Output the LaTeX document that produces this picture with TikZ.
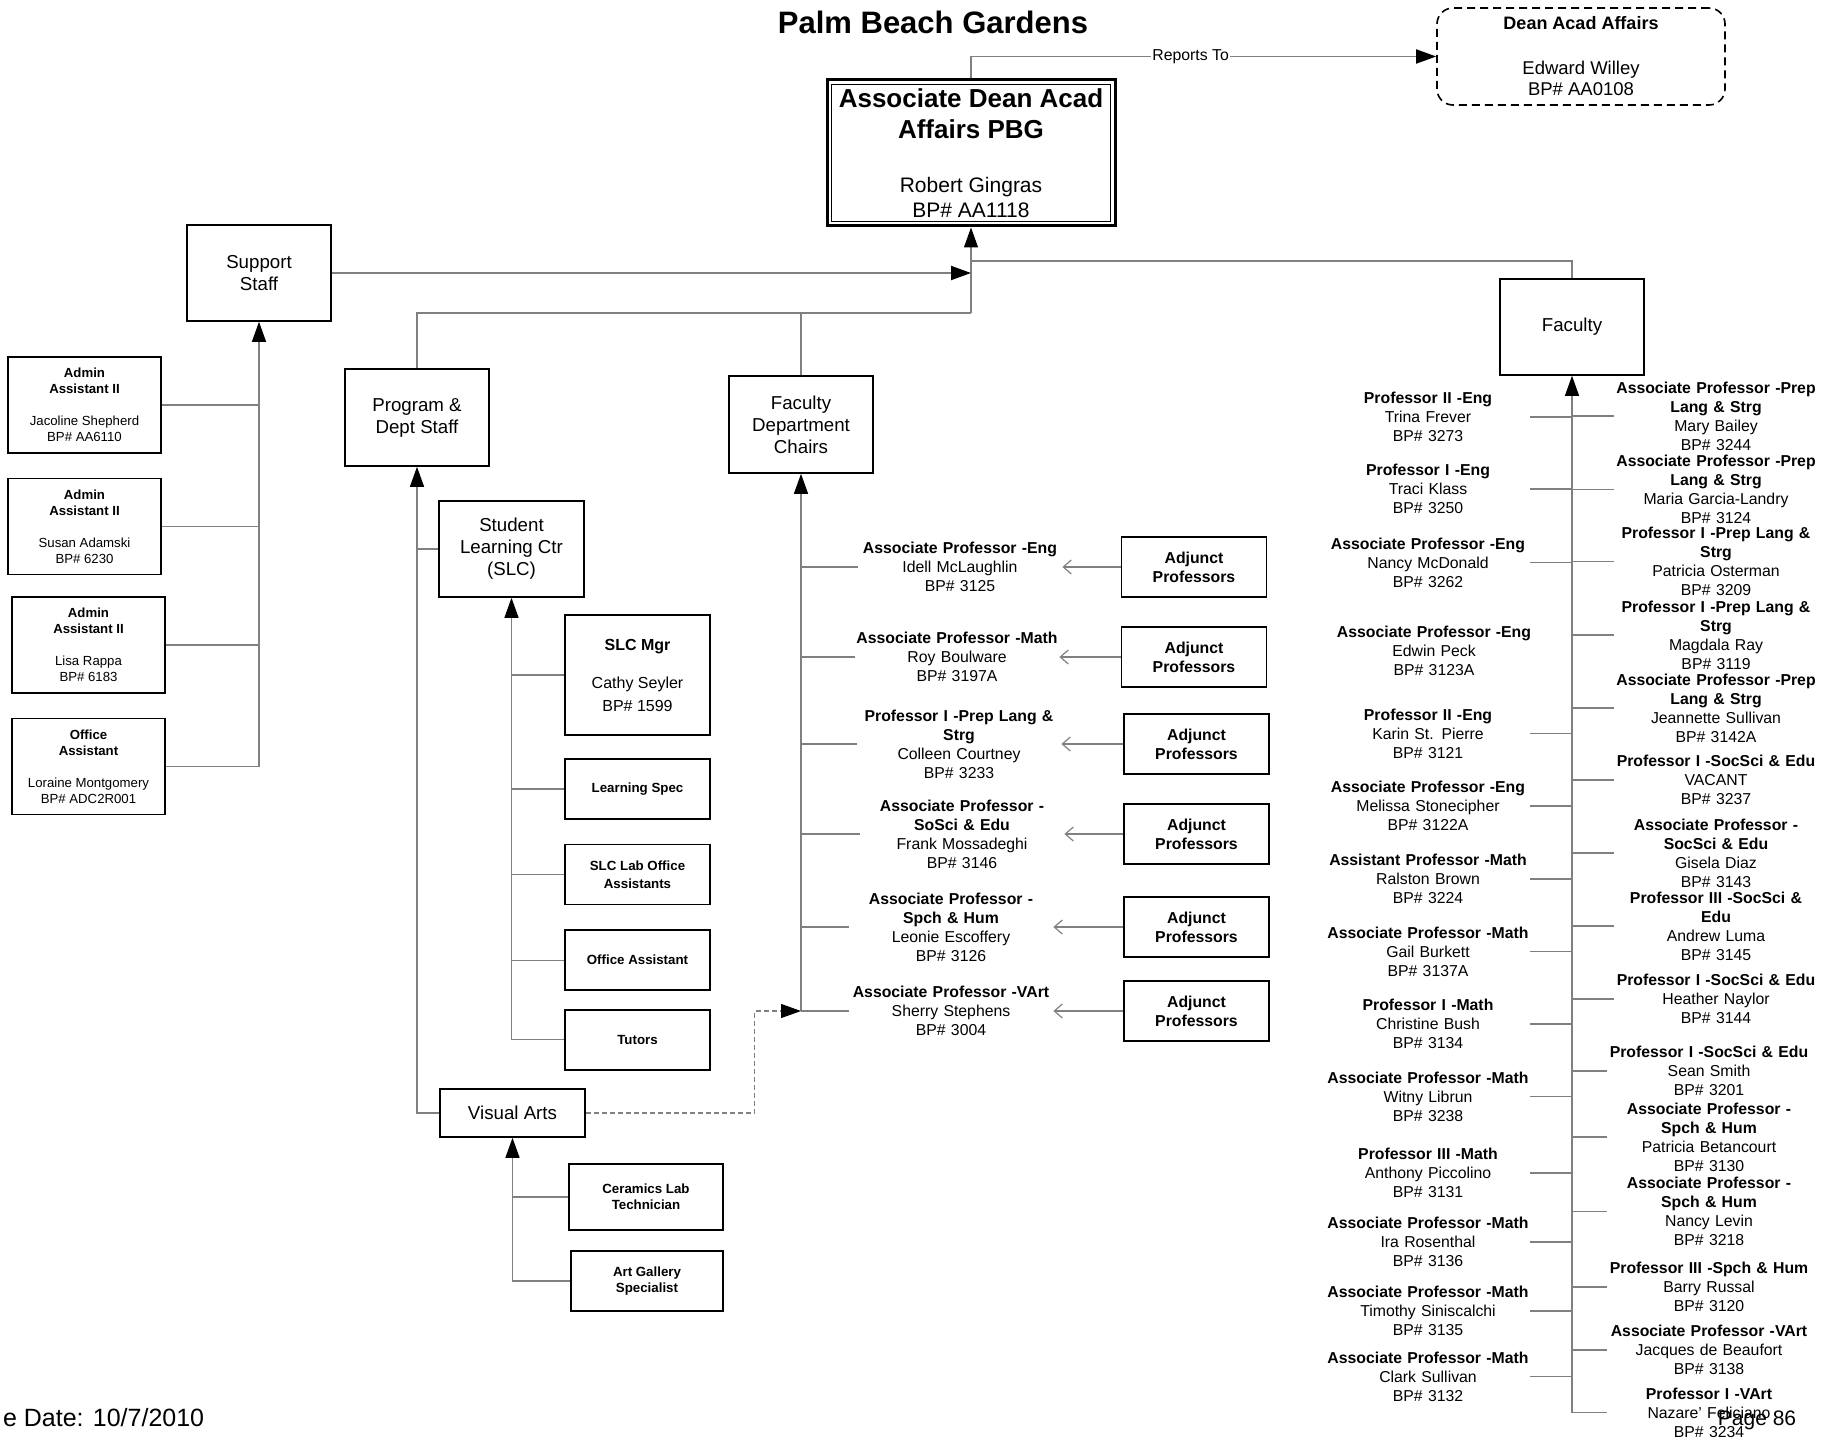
\documentclass[tikz,border=0pt]{standalone}
\usepackage{fontspec}
\setmainfont{Liberation Sans}
\usetikzlibrary{arrows.meta,positioning,calc}
\definecolor{Wire}{HTML}{808080}

\begin{document}
\begin{tikzpicture}[x=0.5pt,y=-0.5pt,
    unit/.style={draw,line width=0.8pt,minimum width=72pt,minimum height=48pt,
      inner sep=1pt,align=center,font=\fontsize{9.35}{11}\selectfont},
    staff/.style={draw,line width=0.8pt,minimum width=76.5pt,minimum height=48pt,
      inner sep=1pt,align=center,font=\fontsize{6.6}{8}\selectfont},
    post/.style={draw,line width=0.8pt,minimum width=72.5pt,minimum height=30pt,
      inner sep=1pt,align=center,font=\bfseries\fontsize{6.65}{8}\selectfont},
    adj/.style={post,font=\bfseries\fontsize{7.9}{9.5}\selectfont},
    fac/.style={text width=102pt,inner sep=0pt,align=center,font=\fontsize{7.9}{9.5}\selectfont},
    link/.style={draw=Wire,line width=0.6pt},
    arr/.style={link,-{Triangle[length=10pt,width=7pt,color=black]}},
    barb/.style={link,-{Straight Barb[length=4pt,width=7pt]}}
  ]
    \useasboundingbox (0,0) rectangle (1835,1439);

    % top of the chart
    \node[font=\bfseries\fontsize{15.5}{18}\selectfont] (title) at (933,22) {Palm Beach Gardens};
    \node[draw,line width=1.5pt,minimum width=144pt,minimum height=73pt,inner sep=1pt,
      align=center,font=\fontsize{10.5}{12.5}\selectfont] (adean) at (971,153)
      {\fontsize{13}{15}\selectfont\textbf{Associate Dean Acad}\\[3pt]
       \fontsize{13}{15}\selectfont\textbf{Affairs PBG}\\[14.5pt]
       Robert Gingras\\BP\# AA1118};
    \draw[line width=0.6pt] ($(adean.south west)+(3pt,3pt)$) rectangle ($(adean.north east)+(-3pt,-3pt)$);
    \node[draw,dash pattern=on 4pt off 2.5pt,rounded corners=8pt,line width=0.8pt,
      minimum width=144pt,minimum height=48.5pt,inner sep=1pt,align=center,
      font=\fontsize{9.25}{10.5}\selectfont] (dean) at (1581,56.5)
      {\fontsize{9}{10.5}\selectfont\textbf{Dean Acad Affairs}\\[12pt]Edward Willey\\BP\# AA0108};
    \draw[arr,line width=0.9pt] (adean.north) |- node[pos=0.736,fill=white,inner sep=0.5pt,
      font=\fontsize{7.9}{9}\selectfont] (rep) {Reports To} (dean.west);

    \node[unit] (support) at (259,273) {Support\\Staff};
    \node[unit,minimum height=48.5pt] (program) at (417,417.5) {Program \&\\Dept Staff};
    \node[unit,minimum height=48.5pt] (fdc) at (801,424.5) {Faculty\\Department\\Chairs};
    \node[unit] (faculty) at (1572,327) {Faculty};

    \coordinate (hub) at (971,313);
    \coordinate (hubtop) at (971,261);
    \draw[arr] (hub) -- (adean.south);
    \draw[link] (program.north) |- (hub);
    \draw[link] (fdc.north) -- (fdc.north |- hub);
    \draw[link] (faculty.north) |- (hubtop);
    \draw[arr,line width=1pt] (support.east) -- (support.east -| hub);

    % support staff
    \node[staff] (aa1) at (84.5,405) {\textbf{Admin}\\\textbf{Assistant II}\\[8pt]Jacoline Shepherd\\BP\# AA6110};
    \node[staff,below=12pt of aa1] (aa2) {\textbf{Admin}\\\textbf{Assistant II}\\[8pt]Susan Adamski\\BP\# 6230};
    \node[staff] (aa3) at (88.5,645) {\textbf{Admin}\\\textbf{Assistant II}\\[8pt]Lisa Rappa\\BP\# 6183};
    \node[staff,below=12pt of aa3] (oa) {\textbf{Office}\\\textbf{Assistant}\\[8pt]Loraine Montgomery\\BP\# ADC2R001};
    \draw[arr] (oa.east -| support.south) -- (support.south);
    \foreach \s in {aa1,aa2,aa3,oa}\draw[link](\s.east)--(\s.east -| support.south);

    % program and dept staff
    \node[unit,minimum width=72.5pt] (slc) at (511.5,549) {Student\\Learning Ctr\\(SLC)};
    \node[draw,line width=0.8pt,minimum width=72.5pt,minimum height=60pt,inner sep=1pt,
      align=center,font=\fontsize{8}{11.5}\selectfont] (slcmgr) at (637.5,675)
      {\textbf{SLC Mgr}\\[7.5pt]Cathy Seyler\\BP\# 1599};
    \node[post] (lspec) at (637.5,789) {Learning Spec};
    \node[post,below=12pt of lspec] (lab) {SLC Lab Office\\[1pt]Assistants};
    \node[post,below=12pt of lab] (offa) {Office Assistant};
    \node[post,below=9pt of offa] (tutors) {Tutors};
    \node[unit,minimum width=72.5pt,minimum height=24pt] (visual) at (512.5,1113) {Visual Arts};
    \node[post,minimum width=77pt,minimum height=33pt] (ceramics) at (646,1197) {Ceramics Lab\\Technician};
    \node[post,minimum width=76pt] (gallery) at (647,1281) {Art Gallery\\Specialist};

    \draw[arr] (visual.west) -| (program.south);
    \draw[link] (slc.west) -- (slc.west -| program.south);
    \draw[arr] (tutors.west) -| (slc.south);
    \foreach \s in {slcmgr,lspec,lab,offa}\draw[link](\s.west)--(\s.west -| slc.south);
    \draw[arr] (gallery.west) -| (visual.south);
    \draw[link] (ceramics.west) -- (ceramics.west -| visual.south);

    % department chairs
    \foreach \i/\x/\a/\y/\t/\p/\b in {
      1/960/1194/567/{Associate Professor -Eng}/{Idell McLaughlin}/3125,
      2/957/1194/657/{Associate Professor -Math}/{Roy Boulware}/3197A,
      3/959/1196.5/744/{Professor I -Prep Lang \&\\Strg}/{Colleen Courtney}/3233,
      4/962/1196.5/834/{Associate Professor -\\SoSci \& Edu}/{Frank Mossadeghi}/3146,
      5/951/1196.5/927/{Associate Professor -\\Spch \& Hum}/{Leonie Escoffery}/3126,
      6/951/1196.5/1011/{Associate Professor -VArt}/{Sherry Stephens}/3004}{
      \node[fac] (chair\i) at (\x,\y) {\textbf{\t}\\\p\\BP\# \b};
      \node[adj] (adj\i) at (\a,\y) {Adjunct\\Professors};
      \draw[link] (chair\i.west) -- (chair\i.west -| fdc.south);
      \draw[barb] (adj\i.west) -- (chair\i.east);
    }
    \draw[arr] (chair6.west -| fdc.south) -- (fdc.south);
    \draw[arr,dash pattern=on 2.5pt off 1.5pt] (visual.east) -- ++(169,0) |- (chair6.west -| fdc.south);

    % faculty
    \foreach \i/\y/\t/\p/\b in {
      1/417/{Professor II -Eng}/{Trina Frever}/3273,
      2/489/{Professor I -Eng}/{Traci Klass}/3250,
      3/562.5/{Associate Professor -Eng}/{Nancy McDonald}/3262,
      5/733.5/{Professor II -Eng}/{Karin St. Pierre}/3121,
      6/806/{Associate Professor -Eng}/{Melissa Stonecipher}/3122A,
      7/879/{Assistant Professor -Math}/{Ralston Brown}/3224,
      8/951.5/{Associate Professor -Math}/{Gail Burkett}/3137A,
      9/1024/{Professor I -Math}/{Christine Bush}/3134,
      10/1096.5/{Associate Professor -Math}/{Witny Librun}/3238,
      11/1173/{Professor III -Math}/{Anthony Piccolino}/3131,
      12/1242/{Associate Professor -Math}/{Ira Rosenthal}/3136,
      13/1311/{Associate Professor -Math}/{Timothy Siniscalchi}/3135,
      14/1376.5/{Associate Professor -Math}/{Clark Sullivan}/3132}{
      \node[fac] (fl\i) at (1428,\y) {\textbf{\t}\\\p\\BP\# \b};
      \draw[link] (fl\i.east) -- (fl\i.east -| faculty.south);
    }
    \node[fac] (fl4) at (1434,651) {\textbf{Associate Professor -Eng}\\Edwin Peck\\BP\# 3123A};

    \foreach \i/\x/\y/\t/\p/\b in {
      1/1716/416/{Associate Professor -Prep\\Lang \& Strg}/{Mary Bailey}/3244,
      2/1716/489.5/{Associate Professor -Prep\\Lang \& Strg}/{Maria Garcia-Landry}/3124,
      3/1716/561.5/{Professor I -Prep Lang \&\\Strg}/{Patricia Osterman}/3209,
      4/1716/635/{Professor I -Prep Lang \&\\Strg}/{Magdala Ray}/3119,
      5/1716/708/{Associate Professor -Prep\\Lang \& Strg}/{Jeannette Sullivan}/3142A,
      6/1716/780/{Professor I -SocSci \& Edu}/{VACANT}/3237,
      7/1716/853/{Associate Professor -\\SocSci \& Edu}/{Gisela Diaz}/3143,
      8/1716/926/{Professor III -SocSci \&\\Edu}/{Andrew Luma}/3145,
      9/1716/999/{Professor I -SocSci \& Edu}/{Heather Naylor}/3144,
      10/1709/1071/{Professor I -SocSci \& Edu}/{Sean Smith}/3201,
      11/1709/1137/{Associate Professor -\\Spch \& Hum}/{Patricia Betancourt}/3130,
      12/1709/1211.5/{Associate Professor -\\Spch \& Hum}/{Nancy Levin}/3218,
      13/1709/1287/{Professor III -Spch \& Hum}/{Barry Russal}/3120,
      14/1709/1350/{Associate Professor -VArt}/{Jacques de Beaufort}/3138,
      15/1709/1412.5/{Professor I -VArt}/{Nazare' Feliciano}/3234}{
      \node[fac] (fr\i) at (\x,\y) {\textbf{\t}\\\p\\BP\# \b};
      \draw[link] (fr\i.west) -- (fr\i.west -| faculty.south);
    }
    \draw[arr] (fr15.west -| faculty.south) -- (faculty.south);

    % footer
    \node[anchor=west,font=\fontsize{12.5}{14}\selectfont] (date) at (-4,1418) {e Date: 10/7/2010};
    \node[font=\fontsize{10.5}{12}\selectfont] (page) at (1757,1420) {Page 86};
\end{tikzpicture}
\end{document}
